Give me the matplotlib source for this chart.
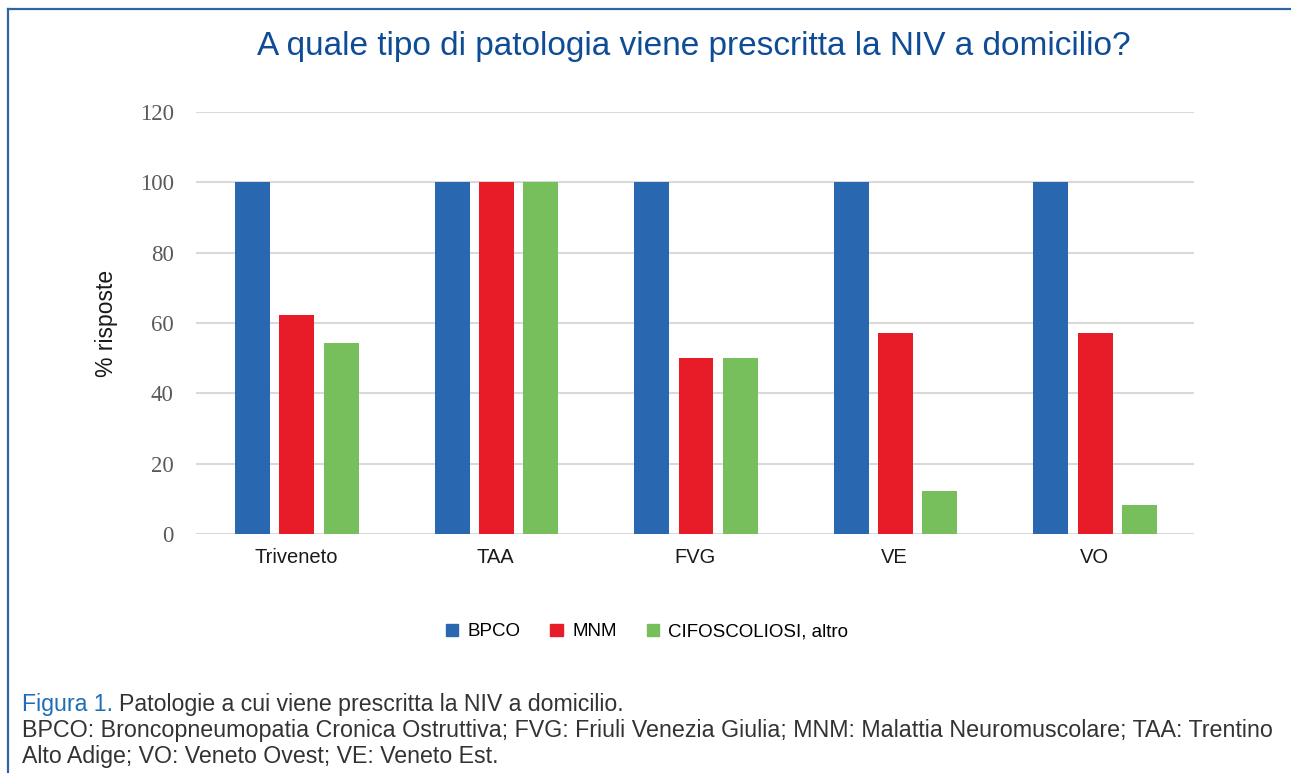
import matplotlib
matplotlib.use("Agg")
import matplotlib.pyplot as plt
import numpy as np
from matplotlib.lines import Line2D
from matplotlib.patches import Rectangle

categories = ["Triveneto", "TAA", "FVG", "VE", "VO"]
series_names = ["BPCO", "MNM", "CIFOSCOLIOSI, altro"]
bpco = [100, 100, 100, 100, 100]
mnm = [62.4, 100, 50, 57.1, 57.1]
cifo = [54.4, 100, 50, 12.3, 8.3]
yticks = [0, 20, 40, 60, 80, 100, 120]
colors = ["#2968B0", "#E81C28", "#77BE5C"]

W, H = 1291, 773
fig = plt.figure(figsize=(W / 100, H / 100), dpi=100)
fig.patch.set_facecolor("white")

ax = fig.add_axes([196 / W, 1 - 534 / H, (1194 - 196) / W, (534 - 112) / H])
x = np.arange(len(categories))
bw = 0.175
off = 0.222
for i, (vals, c) in enumerate(zip([bpco, mnm, cifo], colors)):
    ax.bar(x + (i - 1) * off + 0.005, vals, width=bw, color=c, zorder=3, label=series_names[i])

ax.set_xlim(-0.5, len(categories) - 0.5)
ax.set_ylim(0, 120)
ax.set_yticks(yticks)
ax.set_yticklabels([str(v) for v in yticks], family=["Liberation Serif", "DejaVu Serif"],
                   fontsize=16.5, color="#5a5a5a")
ax.set_xticks(x)
ax.set_xticklabels(categories, family=["Liberation Sans", "DejaVu Sans"],
                   fontsize=14.5, color="#1a1a1a")
ax.tick_params(axis="both", length=0)
ax.tick_params(axis="y", pad=16)
ax.tick_params(axis="x", pad=10)
ax.grid(axis="y", color="#D9D9D9", linewidth=1.5, zorder=0)
for s in ax.spines.values():
    s.set_visible(False)
ax.set_ylabel("% risposte", family=["Liberation Sans", "DejaVu Sans"], fontsize=16.5, color="#1a1a1a",
              labelpad=16)

# title
fig.text(694 / W, 1 - 47 / H, "A quale tipo di patologia viene prescritta la NIV a domicilio?",
         ha="center", va="center", color="#0E4C96", fontsize=24,
         family=["Liberation Sans", "DejaVu Sans"])

# legend
handles = [Rectangle((0, 0), 1, 1, color=c) for c in colors]
fig.legend(handles, series_names, loc="center", bbox_to_anchor=(647 / W, 1 - 632 / H), ncol=3,
           frameon=False, handlelength=0.65, handleheight=0.65, columnspacing=1.6, handletextpad=0.5,
           prop={"family": ["Liberation Sans", "DejaVu Sans"], "size": 13.5})

# border
fig.add_artist(Line2D([8 / W, 1], [1 - 9 / H, 1 - 9 / H], color="#2F65A3", linewidth=1.6))
fig.add_artist(Line2D([8 / W, 8 / W], [1 - 9 / H, 0], color="#2F65A3", linewidth=1.6))

# caption
cap_font = ["Liberation Sans", "DejaVu Sans"]
fs = 16.7
t1 = fig.text(22 / W, 1 - 705 / H, "Figura 1.", color="#1E6DB6", fontsize=fs, family=cap_font,
              va="center", ha="left")
fig.canvas.draw()
bb = t1.get_window_extent()
fig.text((bb.x1 + 6) / W, 1 - 705 / H, "Patologie a cui viene prescritta la NIV a domicilio.",
         color="#333333", fontsize=fs, family=cap_font, va="center", ha="left")
fig.text(22 / W, 1 - 731 / H,
         "BPCO: Broncopneumopatia Cronica Ostruttiva; FVG: Friuli Venezia Giulia; MNM: Malattia Neuromuscolare; TAA: Trentino",
         color="#333333", fontsize=16.75, family=cap_font, va="center", ha="left")
fig.text(22 / W, 1 - 757 / H, "Alto Adige; VO: Veneto Ovest; VE: Veneto Est.",
         color="#333333", fontsize=fs, family=cap_font, va="center", ha="left")

fig.savefig("out.png", dpi=100, facecolor="white")
